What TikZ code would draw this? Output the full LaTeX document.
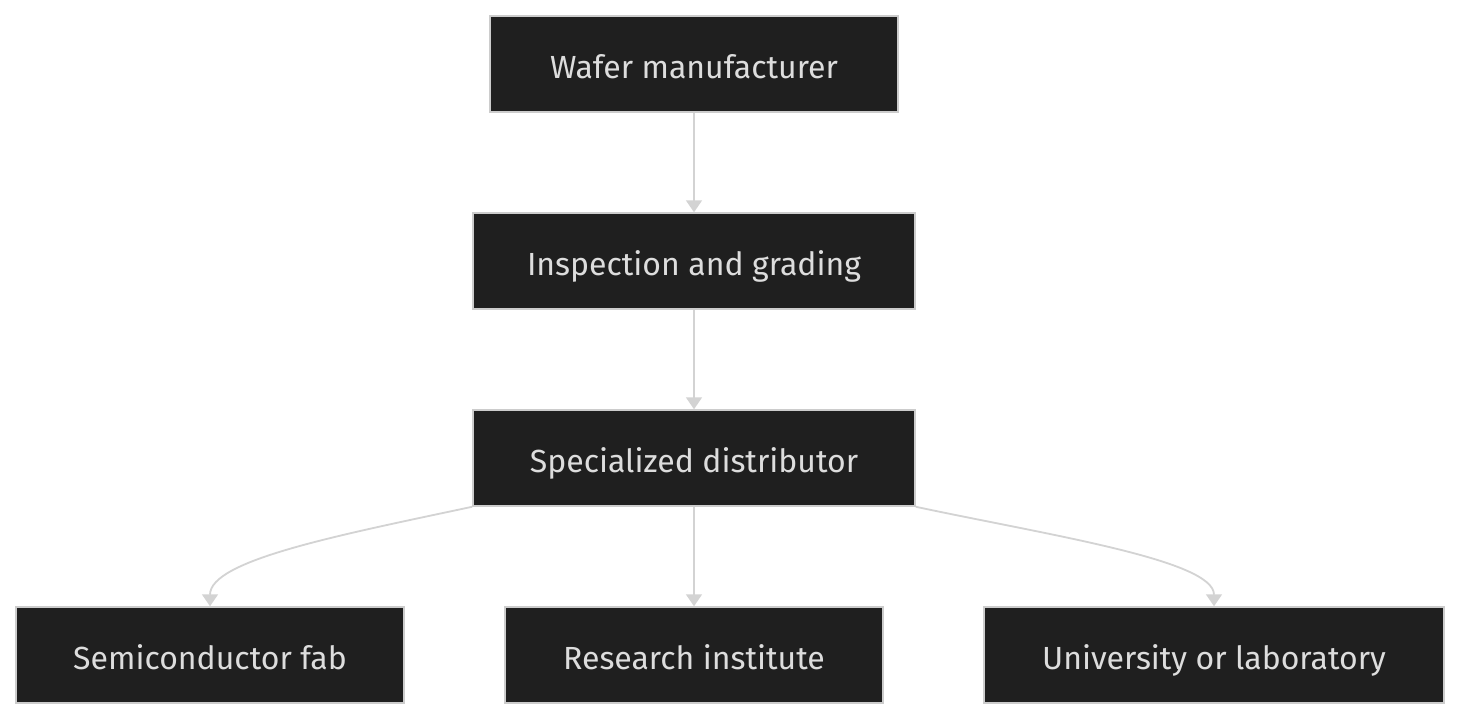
\documentclass[tikz,border=0pt]{standalone}
\usepackage{fontspec}
\setmainfont{Fira Sans}
\usetikzlibrary{arrows.meta}
\definecolor{boxfill}{HTML}{1F1F1F}
\definecolor{boxline}{HTML}{CCCCCC}
\definecolor{txt}{HTML}{DDDDDD}
\definecolor{edge}{HTML}{D3D3D3}
\begin{document}
\begin{tikzpicture}[x=1pt,y=-1pt,
  box/.style={draw=boxline,line width=1.5pt,fill=boxfill,text=txt,font=\fontsize{32}{36}\selectfont,inner sep=0pt,text height=29pt,text depth=0pt},
  conn/.style={draw=edge,line width=1.8pt,-{Triangle[width=16pt,length=12pt]}}]
\useasboundingbox (0,0) rectangle (1461,720);
\path[fill=white] (0,0) rectangle (1461,720);
\node[box,minimum width=408pt,minimum height=96pt] (wm) at (694,64) {Wafer manufacturer};
\node[box,minimum width=442pt,minimum height=96pt] (ig) at (694,261) {Inspection and grading};
\node[box,minimum width=442pt,minimum height=96pt] (sd) at (694,458) {Specialized distributor};
\node[box,minimum width=388pt,minimum height=96pt] (sf) at (210,655) {Semiconductor fab};
\node[box,minimum width=378pt,minimum height=96pt] (ri) at (694,655) {Research institute};
\node[box,minimum width=460pt,minimum height=96pt] (ul) at (1214,655) {University or laboratory};
\draw[conn] (wm.south) -- (ig.north);
\draw[conn] (ig.south) -- (sd.north);
\draw[conn] (sd.south) -- (ri.north);
\draw[conn] (sd.south west) .. controls (340,535) and (210,560) .. (sf.north);
\draw[conn] (sd.south east) .. controls (1048,535) and (1214,560) .. (ul.north);
\end{tikzpicture}
\end{document}
